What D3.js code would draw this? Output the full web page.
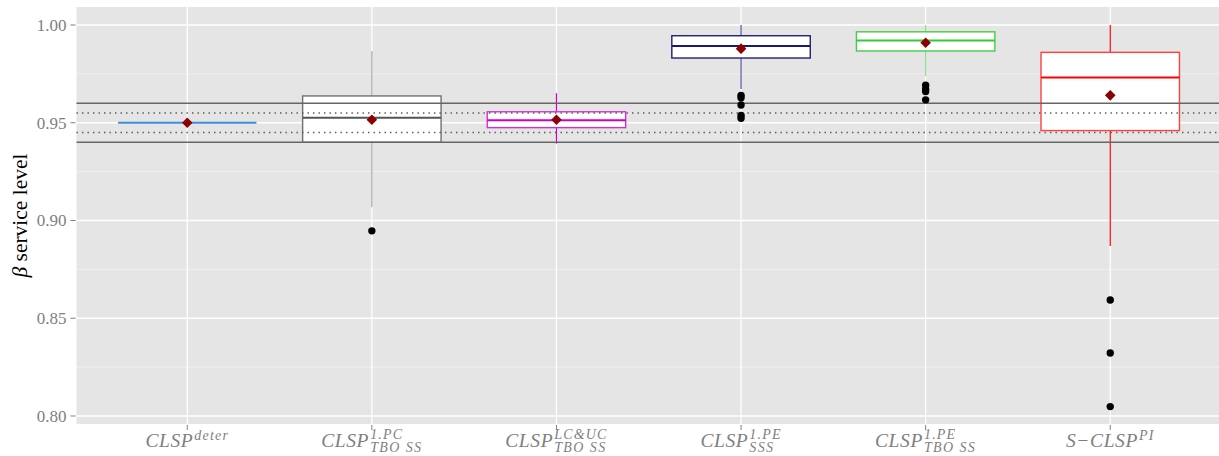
<!DOCTYPE html>
<html><head><meta charset="utf-8">
<script src="https://cdn.jsdelivr.net/npm/d3@7"></script>
<style>body{margin:0;background:#fff}svg{display:block}</style>
</head><body><svg id="c" width="1219" height="456"></svg>
<script>
// ---- data ----
const categories = ["deter","tbo_pc","tbo_lcuc","sss_pe","tbo_pe","s_pi"];
const labelMain = ["CLSP","CLSP","CLSP","CLSP","CLSP","S\u2212CLSP"];
const labelSup = ["deter","1.PC","LC&UC","1.PE","1.PE","PI"];
const labelSub = ["","TBO SS","TBO SS","SSS","TBO SS",""];
const whiskerLow = [0.95,0.9068,0.9393,0.9672,0.9738,0.8870];
const q1 = [0.95,0.9400,0.9475,0.9831,0.9867,0.9460];
const medians = [0.95,0.9525,0.9513,0.9893,0.9921,0.9732];
const q3 = [0.95,0.9637,0.9556,0.9945,0.9965,0.9860];
const whiskerHigh = [0.95,0.9867,0.9651,1.0,1.0,1.0];
const means = [0.95,0.9515,0.9515,0.9879,0.9909,0.9640];
const outliers = [[],[0.8947],[],[0.9640,0.9628,0.9591,0.9537,0.9523],[0.9692,0.9672,0.9660,0.9617],[0.8593,0.8322,0.8048]];
const yTicks = [0.80,0.85,0.90,0.95,1.00];
const yMinor = [0.825,0.875,0.925,0.975];
const refSolid = [0.94,0.96];
const refDotted = [0.945,0.955];

// ---- styles ----
const boxStroke = ["#3d8ee0","#707070","#d030d0","#202070","#44cc44","#ff4040"];
const medStroke = ["#3d8ee0","#555555","#cc00cc","#191970","#33cc33","#ff0000"];
const whiskStroke = ["#3d8ee0","#a8a8a8","#cc00cc","#5050a0","#88dd88","#ff0000"];

const svg = d3.select("#c");
const P = {left:76.5, right:1221, top:7, bottom:424};
const x = d3.scaleLinear().domain([0.4, 6.6]).range([P.left, P.right]);
const y = d3.scaleLinear().domain([0.7959, 1.0092]).range([P.bottom, P.top]);
const bw = (x(1.75)-x(1))/2;

svg.append("rect").attr("x",P.left).attr("y",P.top).attr("width",P.right-P.left).attr("height",P.bottom-P.top).attr("fill","#e5e5e5");
const g = svg.append("g");
g.selectAll(".mn").data(yMinor).join("line").attr("x1",P.left).attr("x2",P.right)
  .attr("y1",d=>y(d)).attr("y2",d=>y(d)).attr("stroke","#f2f2f2").attr("stroke-width",0.8);
g.selectAll(".mj").data(yTicks).join("line").attr("x1",P.left).attr("x2",P.right)
  .attr("y1",d=>y(d)).attr("y2",d=>y(d)).attr("stroke","#ffffff").attr("stroke-width",1.3);
g.selectAll(".vg").data(categories).join("line").attr("x1",(d,i)=>x(i+1)).attr("x2",(d,i)=>x(i+1))
  .attr("y1",P.top).attr("y2",P.bottom).attr("stroke","#ffffff").attr("stroke-width",1.3);

// whiskers, boxes, medians
categories.forEach((c,i)=>{
  const cx = x(i+1);
  if (whiskerHigh[i] > q3[i]) g.append("line").attr("x1",cx).attr("x2",cx).attr("y1",y(q3[i])).attr("y2",y(whiskerHigh[i])).attr("stroke",whiskStroke[i]).attr("stroke-width",1.2);
  if (whiskerLow[i] < q1[i]) g.append("line").attr("x1",cx).attr("x2",cx).attr("y1",y(q1[i])).attr("y2",y(whiskerLow[i])).attr("stroke",whiskStroke[i]).attr("stroke-width",1.2);
  if (q3[i] > q1[i]) g.append("rect").attr("x",cx-bw).attr("y",y(q3[i])).attr("width",2*bw).attr("height",y(q1[i])-y(q3[i]))
     .attr("fill","#ffffff").attr("stroke",boxStroke[i]).attr("stroke-width",1.4);
  g.append("line").attr("x1",cx-bw).attr("x2",cx+bw).attr("y1",y(medians[i])).attr("y2",y(medians[i])).attr("stroke",medStroke[i]).attr("stroke-width",2);
});
// reference lines
g.selectAll(".rs").data(refSolid).join("line").attr("x1",P.left).attr("x2",P.right)
  .attr("y1",d=>y(d)).attr("y2",d=>y(d)).attr("stroke","#666").attr("stroke-width",1.6);
g.selectAll(".rd").data(refDotted).join("line").attr("x1",P.left).attr("x2",P.right)
  .attr("y1",d=>y(d)).attr("y2",d=>y(d)).attr("stroke","#555").attr("stroke-width",1.4).attr("stroke-dasharray","1.4,4.1");
// outliers
categories.forEach((c,i)=>{
  g.selectAll(null).data(outliers[i]).join("circle").attr("cx",x(i+1)).attr("cy",d=>y(d)).attr("r",3.7).attr("fill","#000");
});
// means
const dia = d3.symbol(d3.symbolSquare, 56);
g.selectAll(".mean").data(means).join("path").attr("d",dia)
  .attr("transform",(d,i)=>`translate(${x(i+1)},${y(d)}) rotate(45)`).attr("fill","#8b0000");

// y axis
const ya = svg.append("g");
ya.selectAll("line").data(yTicks).join("line").attr("x1",P.left-6).attr("x2",P.left-1)
  .attr("y1",d=>y(d)).attr("y2",d=>y(d)).attr("stroke","#7f7f7f").attr("stroke-width",1);
ya.selectAll("text").data(yTicks).join("text").attr("x",P.left-10).attr("y",d=>y(d)).attr("dy","0.35em")
  .attr("text-anchor","end").attr("font-family","Liberation Serif, serif").attr("font-size",17).attr("fill","#7f7f7f")
  .text(d=>d3.format(".2f")(d));
const yt = svg.append("text").attr("transform",`translate(27,${(P.top+P.bottom)/2}) rotate(-90)`).attr("text-anchor","middle")
  .attr("font-family","Liberation Serif, serif").attr("font-size",21.5).attr("fill","#000");
yt.append("tspan").attr("font-style","italic").text("\u03b2");
yt.append("tspan").text(" service level");

// x axis
const xa = svg.append("g");
xa.selectAll("line").data(categories).join("line").attr("x1",(d,i)=>x(i+1)).attr("x2",(d,i)=>x(i+1))
  .attr("y1",P.bottom+1).attr("y2",P.bottom+6).attr("stroke","#7f7f7f");
categories.forEach((c,i)=>{
  const lg = xa.append("g");
  const font = "Liberation Serif, serif";
  const m = lg.append("text").attr("x",0).attr("y",0).attr("font-family",font).attr("font-style","italic").attr("font-size",19.5).attr("letter-spacing",0.6).attr("fill","#7f7f7f").text(labelMain[i]);
  const w = m.node().getComputedTextLength();
  const hasSub = labelSub[i] !== "";
  const s = lg.append("text").attr("x",w+1).attr("y",hasSub?-8:-7).attr("font-family",font).attr("font-style","italic").attr("font-size",14).attr("letter-spacing",1.2).attr("fill","#7f7f7f").text(labelSup[i]);
  let ew = s.node().getComputedTextLength();
  if (hasSub) {
    const b = lg.append("text").attr("x",w+1).attr("y",5).attr("font-family",font).attr("font-style","italic").attr("font-size",14).attr("letter-spacing",1.4).attr("fill","#7f7f7f").text(labelSub[i]);
    ew = Math.max(ew, b.node().getComputedTextLength());
  }
  const tot = w+1+ew;
  lg.attr("transform",`translate(${x(i+1)-tot/2},447)`);
});
</script></body></html>
